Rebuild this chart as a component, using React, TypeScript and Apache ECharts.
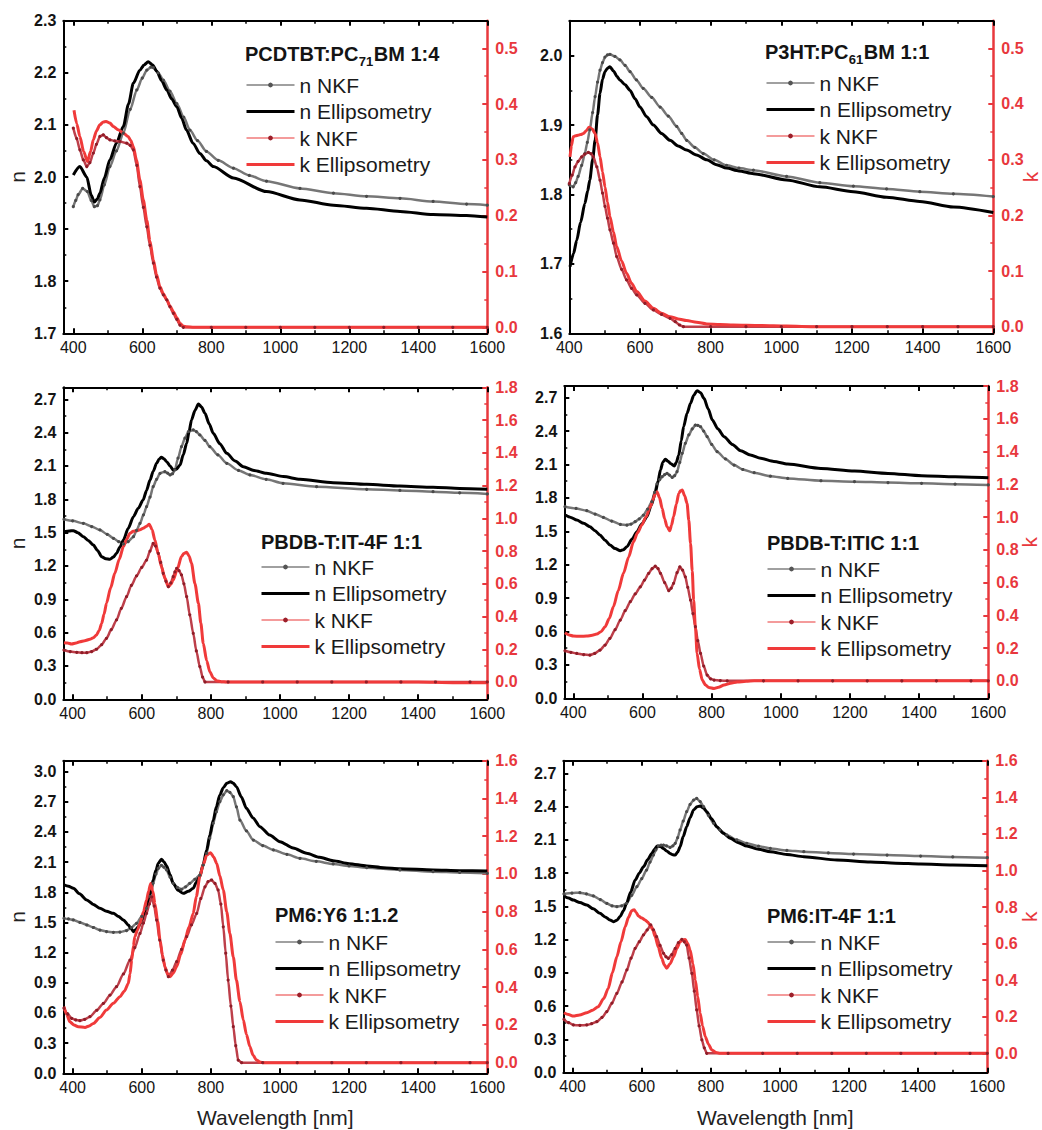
import React, { useEffect, useRef } from 'react';
import * as echarts from 'echarts';

const FONT = '"Liberation Sans", Arial, Helvetica, sans-serif';

// ---- tick values ----
const X_MAJOR = [400, 600, 800, 1000, 1200, 1400, 1600];
const X_MINOR = [500, 700, 900, 1100, 1300, 1500];
const P1_N_MAJOR = [1.7, 1.8, 1.9, 2.0, 2.1, 2.2, 2.3];
const P1_N_MINOR = [1.75, 1.85, 1.95, 2.05, 2.15, 2.25];
const P2_N_MAJOR = [1.6, 1.7, 1.8, 1.9, 2.0];
const P2_N_MINOR = [1.65, 1.75, 1.85, 1.95];
const K_MAJOR_05 = [0, 0.1, 0.2, 0.3, 0.4, 0.5];
const K_MINOR_05 = [0.05, 0.15, 0.25, 0.35, 0.45];
const N_MAJOR_27 = [0, 0.3, 0.6, 0.9, 1.2, 1.5, 1.8, 2.1, 2.4, 2.7];
const N_MINOR_27 = [0.15, 0.45, 0.75, 1.05, 1.35, 1.65, 1.95, 2.25, 2.55];
const N_MAJOR_30 = [0, 0.3, 0.6, 0.9, 1.2, 1.5, 1.8, 2.1, 2.4, 2.7, 3.0];
const N_MINOR_30 = [0.15, 0.45, 0.75, 1.05, 1.35, 1.65, 1.95, 2.25, 2.55, 2.85];
const K_MAJOR_18 = [0, 0.2, 0.4, 0.6, 0.8, 1.0, 1.2, 1.4, 1.6, 1.8];
const K_MINOR_18 = [0.1, 0.3, 0.5, 0.7, 0.9, 1.1, 1.3, 1.5, 1.7];
const K_MAJOR_16 = [0, 0.2, 0.4, 0.6, 0.8, 1.0, 1.2, 1.4, 1.6];
const K_MINOR_16 = [0.1, 0.3, 0.5, 0.7, 0.9, 1.1, 1.3, 1.5];

const SERIES_NAMES = ['n NKF', 'n Ellipsometry', 'k NKF', 'k Ellipsometry'];

// ---- Panel 1: PCDTBT:PC71BM 1:4 ----
const p1_nNKF = [[400,1.943],[407,1.955],[414,1.966],[427,1.978],[441,1.972],[452,1.955],[461,1.943],[470,1.945],[477,1.956],[490,1.985],[506,2.02],[525,2.05],[545,2.084],[565,2.13],[584,2.167],[600,2.19],[613,2.205],[625,2.211],[632,2.21],[646,2.2],[661,2.186],[680,2.165],[700,2.141],[720,2.115],[738,2.09],[760,2.07],[786,2.049],[820,2.032],[864,2.017],[910,2.003],[960,1.992],[1057,1.978],[1154,1.969],[1250,1.963],[1347,1.959],[1443,1.953],[1540,1.948],[1600,1.946]];
const p1_nEll = [[400,2.004],[419,2.02],[439,2.0],[452,1.965],[461,1.952],[470,1.958],[477,1.969],[490,1.998],[506,2.033],[525,2.065],[545,2.097],[560,2.14],[574,2.18],[593,2.205],[605,2.215],[617,2.221],[630,2.215],[642,2.203],[656,2.185],[671,2.167],[685,2.15],[700,2.135],[714,2.113],[728,2.09],[747,2.065],[767,2.045],[786,2.031],[806,2.02],[864,1.998],[960,1.972],[1057,1.956],[1154,1.946],[1250,1.94],[1347,1.934],[1443,1.928],[1540,1.926],[1600,1.923]];
const p1_kNKF = [[400,0.357],[410,0.338],[419,0.318],[429,0.3],[439,0.288],[448,0.295],[458,0.312],[467,0.328],[477,0.342],[487,0.345],[496,0.34],[506,0.336],[520,0.334],[535,0.333],[555,0.33],[565,0.326],[574,0.318],[584,0.29],[593,0.252],[603,0.215],[613,0.18],[622,0.147],[632,0.115],[641,0.09],[651,0.07],[661,0.058],[671,0.049],[680,0.037],[690,0.025],[700,0.014],[709,0.004],[719,0],[800,0],[900,0],[1000,0],[1100,0],[1200,0],[1300,0],[1400,0],[1500,0],[1600,0]];
const p1_kEll = [[402,0.389],[410,0.365],[419,0.342],[430,0.315],[441,0.297],[450,0.315],[458,0.336],[467,0.352],[477,0.363],[487,0.368],[495,0.369],[506,0.366],[516,0.36],[530,0.354],[545,0.348],[559,0.342],[566,0.335],[574,0.324],[583,0.3],[593,0.264],[603,0.228],[613,0.192],[622,0.155],[632,0.121],[641,0.095],[651,0.073],[661,0.06],[671,0.049],[680,0.038],[690,0.028],[700,0.017],[709,0.007],[719,0.002],[728,0.001],[750,0],[800,0],[900,0],[1000,0],[1100,0],[1200,0],[1300,0],[1400,0],[1500,0],[1600,0]];

// ---- Panel 2: P3HT:PC61BM 1:1 ----
const p2_nNKF = [[400,1.814],[411,1.811],[418,1.817],[425,1.826],[435,1.842],[444,1.859],[451,1.875],[458,1.893],[466,1.918],[473,1.941],[480,1.962],[487,1.979],[494,1.99],[501,1.998],[508,2.001],[515,2.002],[529,1.999],[543,1.994],[558,1.986],[572,1.977],[590,1.965],[609,1.953],[633,1.94],[657,1.926],[680,1.913],[704,1.898],[718,1.888],[732,1.878],[755,1.868],[779,1.859],[810,1.85],[845,1.842],[880,1.838],[921,1.835],[1015,1.826],[1109,1.817],[1204,1.812],[1298,1.808],[1392,1.804],[1487,1.801],[1600,1.797]];
const p2_nEll = [[402,1.696],[412,1.715],[421,1.734],[432,1.76],[444,1.787],[452,1.805],[458,1.821],[466,1.85],[473,1.878],[480,1.915],[487,1.946],[494,1.966],[501,1.977],[508,1.982],[515,1.984],[525,1.978],[535,1.97],[543,1.965],[558,1.958],[572,1.95],[586,1.938],[600,1.926],[619,1.912],[638,1.9],[661,1.888],[685,1.878],[708,1.87],[732,1.864],[760,1.857],[789,1.85],[817,1.843],[845,1.838],[880,1.834],[921,1.83],[1015,1.821],[1109,1.811],[1204,1.804],[1298,1.796],[1392,1.79],[1487,1.782],[1600,1.774]];
const p2_kNKF = [[400,0.257],[408,0.272],[416,0.287],[425,0.297],[435,0.305],[444,0.31],[454,0.313],[461,0.311],[468,0.305],[478,0.287],[487,0.263],[494,0.24],[501,0.216],[508,0.195],[515,0.174],[525,0.15],[534,0.126],[548,0.103],[562,0.084],[576,0.069],[591,0.057],[614,0.042],[638,0.03],[661,0.022],[685,0.015],[700,0.009],[712,0.003],[723,0],[800,0],[900,0],[1000,0],[1100,0],[1200,0],[1300,0],[1400,0],[1500,0],[1600,0]];
const p2_kEll = [[402,0.305],[406,0.325],[411,0.341],[418,0.343],[425,0.344],[432,0.345],[440,0.347],[448,0.352],[456,0.358],[465,0.355],[473,0.347],[480,0.33],[487,0.305],[494,0.278],[501,0.251],[508,0.224],[515,0.198],[525,0.17],[534,0.144],[548,0.118],[562,0.096],[576,0.078],[591,0.063],[614,0.046],[638,0.033],[661,0.024],[685,0.018],[708,0.014],[732,0.011],[760,0.008],[789,0.005],[826,0.004],[864,0.003],[940,0.002],[1015,0.001],[1100,0],[1200,0],[1300,0],[1400,0],[1500,0],[1600,0]];

// ---- Panel 3: PBDB-T:IT-4F 1:1 ----
const p3_nNKF = [[375,1.62],[400,1.606],[431,1.584],[455,1.555],[479,1.524],[500,1.485],[518,1.449],[533,1.42],[547,1.398],[561,1.42],[576,1.464],[585,1.52],[595,1.584],[605,1.66],[614,1.734],[624,1.82],[633,1.914],[643,1.98],[653,2.034],[667,2.049],[675,2.035],[682,2.019],[689,2.03],[696,2.064],[705,2.17],[715,2.274],[725,2.35],[735,2.409],[749,2.424],[758,2.41],[768,2.379],[783,2.33],[797,2.274],[820,2.2],[846,2.124],[880,2.06],[913,2.019],[960,1.98],[1009,1.944],[1106,1.914],[1251,1.89],[1347,1.88],[1443,1.869],[1520,1.858],[1600,1.848]];
const p3_nEll = [[375,1.509],[390,1.515],[402,1.518],[415,1.5],[431,1.464],[445,1.43],[460,1.389],[472,1.34],[484,1.284],[496,1.265],[508,1.26],[518,1.28],[527,1.314],[537,1.37],[547,1.434],[561,1.54],[576,1.644],[590,1.72],[604,1.794],[614,1.88],[624,1.974],[633,2.05],[643,2.124],[650,2.16],[657,2.178],[664,2.165],[672,2.139],[682,2.1],[691,2.064],[700,2.07],[711,2.109],[720,2.2],[730,2.304],[737,2.41],[744,2.514],[754,2.6],[764,2.658],[773,2.63],[783,2.574],[795,2.48],[807,2.394],[826,2.3],[846,2.214],[870,2.145],[894,2.094],[925,2.06],[961,2.034],[1010,2.005],[1058,1.98],[1154,1.95],[1251,1.935],[1347,1.92],[1443,1.908],[1520,1.898],[1600,1.89]];
const p3_kNKF = [[375,0.195],[393,0.186],[412,0.181],[427,0.179],[441,0.179],[455,0.186],[469,0.2],[484,0.228],[498,0.267],[512,0.32],[527,0.379],[541,0.45],[556,0.521],[570,0.59],[585,0.648],[600,0.7],[614,0.745],[624,0.8],[633,0.847],[640,0.83],[648,0.786],[655,0.73],[662,0.664],[670,0.615],[677,0.582],[684,0.605],[691,0.643],[696,0.672],[701,0.694],[708,0.68],[715,0.654],[722,0.6],[730,0.521],[739,0.41],[749,0.297],[758,0.19],[768,0.094],[776,0.03],[783,0],[850,0],[950,0],[1050,0],[1150,0],[1250,0],[1350,0],[1450,0],[1550,0],[1600,0]];
const p3_kEll = [[375,0.24],[385,0.238],[397,0.232],[410,0.238],[421,0.246],[435,0.252],[450,0.261],[460,0.27],[469,0.287],[477,0.315],[484,0.358],[491,0.415],[498,0.481],[510,0.575],[522,0.664],[535,0.75],[547,0.827],[556,0.87],[566,0.908],[575,0.92],[585,0.924],[595,0.93],[604,0.939],[613,0.95],[622,0.963],[630,0.93],[638,0.867],[648,0.78],[657,0.705],[667,0.635],[677,0.582],[684,0.595],[691,0.623],[703,0.69],[715,0.766],[722,0.785],[730,0.792],[737,0.77],[744,0.725],[754,0.6],[764,0.481],[771,0.36],[778,0.236],[788,0.13],[797,0.063],[807,0.025],[817,0.008],[830,0.002],[846,0],[900,0],[1000,0],[1100,0],[1200,0],[1300,0],[1400,0],[1500,-0.004],[1600,-0.005]];

// ---- Panel 4: PBDB-T:ITIC 1:1 ----
const p4_nNKF = [[376,1.721],[408,1.705],[439,1.685],[463,1.655],[487,1.625],[511,1.592],[536,1.562],[555,1.556],[567,1.565],[579,1.586],[591,1.612],[603,1.646],[615,1.7],[627,1.766],[635,1.85],[642,1.925],[650,1.965],[657,1.99],[664,2.008],[671,2.02],[678,2.005],[686,1.984],[693,2.0],[700,2.035],[708,2.12],[715,2.2],[724,2.29],[734,2.365],[744,2.42],[753,2.454],[760,2.452],[768,2.439],[777,2.4],[787,2.35],[800,2.28],[816,2.215],[840,2.15],[865,2.095],[890,2.055],[923,2.026],[970,1.995],[1020,1.975],[1116,1.954],[1213,1.946],[1310,1.938],[1407,1.931],[1504,1.923],[1600,1.916]];
const p4_nEll = [[376,1.646],[393,1.625],[410,1.601],[430,1.572],[448,1.541],[463,1.505],[477,1.467],[492,1.42],[506,1.377],[521,1.345],[536,1.326],[545,1.335],[555,1.362],[570,1.43],[584,1.497],[598,1.565],[613,1.631],[625,1.73],[637,1.841],[645,1.95],[652,2.05],[659,2.12],[666,2.146],[674,2.13],[681,2.11],[692,2.086],[698,2.12],[705,2.185],[712,2.31],[719,2.439],[729,2.56],[739,2.649],[748,2.72],[758,2.763],[768,2.745],[778,2.694],[790,2.6],[802,2.499],[818,2.42],[836,2.35],[860,2.28],[884,2.224],[912,2.185],[942,2.155],[980,2.128],[1020,2.104],[1116,2.065],[1213,2.041],[1310,2.02],[1407,1.999],[1504,1.99],[1600,1.981]];
const p4_kNKF = [[376,0.183],[393,0.174],[410,0.167],[430,0.16],[448,0.157],[462,0.167],[477,0.187],[492,0.218],[506,0.259],[521,0.312],[536,0.371],[550,0.428],[565,0.483],[579,0.53],[594,0.574],[606,0.615],[618,0.656],[628,0.685],[637,0.7],[645,0.685],[652,0.656],[664,0.6],[676,0.55],[683,0.565],[690,0.595],[700,0.66],[708,0.696],[716,0.675],[724,0.635],[731,0.57],[739,0.493],[746,0.41],[753,0.33],[760,0.245],[768,0.167],[777,0.09],[787,0.035],[797,0.012],[807,0.004],[825,0.001],[845,0],[950,0],[1050,0],[1150,0],[1250,0],[1350,0],[1450,0],[1550,0],[1600,0]];
const p4_kEll = [[376,0.293],[388,0.28],[400,0.273],[420,0.272],[439,0.273],[455,0.278],[468,0.285],[480,0.3],[492,0.33],[504,0.38],[516,0.452],[530,0.55],[545,0.656],[560,0.755],[574,0.849],[586,0.905],[598,0.951],[610,1.0],[623,1.063],[630,1.105],[637,1.144],[642,1.155],[649,1.12],[657,1.053],[664,0.99],[671,0.941],[679,0.916],[684,0.95],[690,1.002],[698,1.08],[705,1.144],[710,1.16],[715,1.165],[722,1.13],[729,1.083],[734,0.98],[739,0.839],[744,0.67],[748,0.493],[753,0.33],[758,0.167],[765,0.07],[773,0.004],[782,-0.025],[792,-0.041],[807,-0.047],[820,-0.04],[836,-0.026],[855,-0.015],[874,-0.008],[900,-0.003],[923,0],[1000,0],[1100,0],[1200,0],[1300,0],[1400,0],[1500,0],[1600,0]];

// ---- Panel 5: PM6:Y6 1:1.2 ----
const p5_nNKF = [[375,1.541],[388,1.535],[402,1.525],[421,1.5],[441,1.475],[460,1.45],[479,1.425],[498,1.41],[518,1.402],[537,1.405],[556,1.419],[570,1.45],[585,1.492],[600,1.56],[614,1.641],[624,1.76],[633,1.889],[641,1.98],[648,2.038],[657,2.068],[664,2.05],[672,2.022],[682,1.95],[691,1.889],[703,1.848],[715,1.83],[727,1.855],[739,1.889],[754,1.93],[768,1.972],[778,2.07],[788,2.188],[797,2.34],[807,2.486],[816,2.6],[826,2.701],[836,2.77],[846,2.811],[855,2.795],[865,2.751],[874,2.65],[884,2.519],[903,2.41],[923,2.32],[950,2.265],[981,2.221],[1020,2.178],[1058,2.138],[1105,2.108],[1154,2.082],[1200,2.062],[1251,2.045],[1347,2.022],[1443,2.005],[1520,1.997],[1600,1.989]];
const p5_nEll = [[375,1.873],[388,1.86],[402,1.84],[420,1.785],[441,1.724],[460,1.68],[479,1.641],[498,1.612],[518,1.591],[533,1.56],[547,1.525],[561,1.475],[569,1.44],[576,1.409],[583,1.43],[590,1.458],[602,1.53],[614,1.624],[624,1.78],[633,1.922],[641,2.02],[648,2.088],[657,2.128],[664,2.105],[672,2.062],[682,1.975],[691,1.889],[705,1.82],[720,1.79],[735,1.81],[749,1.84],[758,1.9],[768,1.956],[778,2.08],[788,2.221],[797,2.37],[807,2.519],[816,2.65],[826,2.768],[836,2.84],[846,2.884],[857,2.9],[865,2.885],[874,2.851],[888,2.75],[903,2.635],[922,2.54],[942,2.453],[970,2.37],[1000,2.304],[1038,2.24],[1077,2.188],[1115,2.148],[1154,2.115],[1200,2.085],[1251,2.062],[1300,2.045],[1347,2.035],[1443,2.022],[1520,2.015],[1600,2.012]];
const p5_kNKF = [[375,0.288],[386,0.258],[397,0.235],[409,0.227],[421,0.223],[435,0.23],[450,0.244],[470,0.278],[489,0.314],[508,0.358],[527,0.403],[547,0.47],[566,0.544],[580,0.61],[595,0.685],[605,0.74],[614,0.791],[622,0.84],[629,0.879],[636,0.83],[643,0.756],[652,0.65],[662,0.544],[670,0.49],[677,0.456],[689,0.49],[701,0.535],[715,0.6],[730,0.668],[744,0.73],[759,0.791],[771,0.87],[783,0.932],[792,0.96],[802,0.968],[812,0.95],[821,0.915],[829,0.84],[836,0.72],[843,0.58],[850,0.438],[858,0.3],[865,0.191],[872,0.09],[879,0.014],[889,0],[950,0],[1050,0],[1150,0],[1250,0],[1350,0],[1450,0],[1550,0],[1600,0]];
const p5_kEll = [[375,0.297],[383,0.255],[392,0.217],[404,0.2],[416,0.191],[436,0.187],[448,0.195],[460,0.208],[479,0.24],[498,0.279],[518,0.315],[537,0.35],[550,0.38],[561,0.42],[566,0.47],[571,0.544],[576,0.62],[580,0.668],[588,0.705],[595,0.738],[605,0.8],[614,0.862],[620,0.91],[626,0.95],[632,0.91],[638,0.844],[646,0.75],[653,0.65],[660,0.57],[667,0.509],[675,0.47],[682,0.456],[691,0.475],[701,0.509],[713,0.575],[725,0.65],[737,0.72],[749,0.791],[758,0.88],[768,0.985],[778,1.05],[788,1.1],[799,1.113],[808,1.09],[817,1.056],[826,0.99],[836,0.915],[846,0.8],[855,0.685],[865,0.56],[874,0.438],[884,0.325],[894,0.226],[903,0.15],[913,0.085],[922,0.04],[932,0.014],[942,0.004],[952,0],[1000,0],[1100,0],[1200,0],[1300,0],[1400,0],[1500,0],[1600,0]];

// ---- Panel 6: PM6:IT-4F 1:1 ----
const p6_nNKF = [[375,1.612],[398,1.62],[421,1.624],[440,1.612],[460,1.594],[480,1.562],[499,1.527],[514,1.505],[528,1.497],[542,1.505],[556,1.527],[571,1.6],[586,1.678],[600,1.75],[614,1.828],[624,1.9],[634,1.963],[641,2.01],[648,2.044],[656,2.052],[663,2.053],[672,2.045],[682,2.032],[690,2.045],[697,2.069],[704,2.12],[711,2.189],[720,2.27],[730,2.354],[740,2.42],[750,2.459],[759,2.474],[769,2.445],[779,2.399],[793,2.32],[808,2.249],[826,2.19],[846,2.144],[875,2.1],[904,2.069],[938,2.043],[972,2.023],[1020,2.005],[1069,1.993],[1140,1.982],[1213,1.972],[1310,1.963],[1407,1.954],[1500,1.946],[1600,1.939]];
const p6_nEll = [[375,1.594],[388,1.575],[402,1.557],[421,1.535],[441,1.512],[460,1.478],[479,1.437],[494,1.405],[508,1.377],[518,1.362],[528,1.375],[537,1.407],[547,1.46],[556,1.527],[568,1.63],[581,1.738],[593,1.8],[605,1.858],[617,1.92],[629,1.978],[637,2.015],[645,2.044],[654,2.04],[663,2.023],[672,2.0],[682,1.978],[690,1.965],[697,1.963],[704,1.99],[711,2.038],[720,2.13],[730,2.219],[740,2.3],[750,2.369],[760,2.398],[769,2.405],[779,2.385],[788,2.354],[802,2.29],[817,2.219],[836,2.16],[856,2.114],[880,2.075],[904,2.044],[938,2.015],[972,1.993],[1020,1.968],[1069,1.948],[1165,1.918],[1262,1.9],[1335,1.89],[1407,1.882],[1500,1.874],[1600,1.867]];
const p6_kNKF = [[375,0.186],[388,0.168],[402,0.155],[421,0.153],[441,0.155],[455,0.162],[470,0.173],[485,0.196],[499,0.228],[514,0.275],[528,0.328],[543,0.39],[557,0.456],[569,0.52],[581,0.574],[593,0.61],[605,0.647],[616,0.675],[626,0.702],[634,0.675],[643,0.638],[653,0.59],[663,0.547],[670,0.528],[677,0.519],[687,0.54],[697,0.574],[706,0.605],[716,0.623],[723,0.61],[730,0.592],[737,0.52],[745,0.437],[752,0.34],[759,0.237],[766,0.15],[774,0.073],[781,0.03],[788,0],[850,0],[950,0],[1050,0],[1150,0],[1250,0],[1350,0],[1450,0],[1550,0],[1600,0]];
const p6_kEll = [[375,0.222],[388,0.212],[402,0.204],[420,0.21],[441,0.222],[458,0.236],[474,0.255],[490,0.3],[503,0.355],[515,0.44],[528,0.528],[540,0.61],[552,0.692],[562,0.745],[571,0.78],[578,0.785],[584,0.77],[590,0.751],[600,0.74],[610,0.729],[617,0.718],[624,0.702],[632,0.675],[639,0.638],[648,0.58],[658,0.519],[665,0.485],[672,0.465],[682,0.49],[692,0.528],[702,0.575],[711,0.61],[718,0.62],[726,0.623],[733,0.6],[740,0.565],[748,0.49],[755,0.401],[762,0.31],[769,0.219],[776,0.15],[784,0.091],[793,0.05],[803,0.018],[815,0.005],[827,0],[900,0],[1000,0],[1100,0],[1200,0],[1300,0],[1400,0],[1500,0],[1600,0]];

// ---- layout / per-panel settings ----
const PANELS = [
  { left: 63.3, top: 20.7, width: 424, height: 312.6, xMin: 371, nMin: 1.7, nMax: 2.3, nMajor: P1_N_MAJOR, nMinor: P1_N_MINOR, kMin: -0.0108, kMax: 0.5495, kMajor: K_MAJOR_05, kMinor: K_MINOR_05,
    title: ['PCDTBT:PC', '71', 'BM 1:4'], titleX: 245, titleY: 54, legX: 245, legY: 74.5, nName: true, kName: false, xName: false, kGap: 26,
    data: [p1_nNKF, p1_nEll, p1_kNKF, p1_kEll] },
  { left: 569.3, top: 20.7, width: 424, height: 312.6, xMin: 400, nMin: 1.6, nMax: 2.0504, nMajor: P2_N_MAJOR, nMinor: P2_N_MINOR, kMin: -0.0119, kMax: 0.5496, kMajor: K_MAJOR_05, kMinor: K_MINOR_05,
    title: ['P3HT:PC', '61', 'BM 1:1'], titleX: 765, titleY: 52, legX: 765, legY: 72.5, nName: false, kName: true, xName: false, kGap: 27,
    data: [p2_nNKF, p2_nEll, p2_kNKF, p2_kEll] },
  { left: 63.3, top: 387.3, width: 424, height: 312, xMin: 373, nMin: 0, nMax: 2.808, nMajor: N_MAJOR_27, nMinor: N_MINOR_27, kMin: -0.1057, kMax: 1.8, kMajor: K_MAJOR_18, kMinor: K_MINOR_18,
    title: ['PBDB-T:IT-4F 1:1', '', ''], titleX: 261, titleY: 542, legX: 260, legY: 556.5, nName: true, kName: false, xName: false, kGap: 31,
    data: [p3_nNKF, p3_nEll, p3_kNKF, p3_kEll] },
  { left: 564.3, top: 386, width: 424, height: 312.3, xMin: 374, nMin: 0, nMax: 2.805, nMajor: N_MAJOR_27, nMinor: N_MINOR_27, kMin: -0.107, kMax: 1.8, kMajor: K_MAJOR_18, kMinor: K_MINOR_18,
    title: ['PBDB-T:ITIC 1:1', '', ''], titleX: 767, titleY: 543, legX: 766, legY: 558.5, nName: false, kName: true, xName: false, kGap: 31,
    data: [p4_nNKF, p4_nEll, p4_kNKF, p4_kEll] },
  { left: 63.3, top: 760.7, width: 424, height: 312.6, xMin: 373, nMin: 0, nMax: 3.109, nMajor: N_MAJOR_30, nMinor: N_MINOR_30, kMin: -0.056, kMax: 1.6, kMajor: K_MAJOR_16, kMinor: K_MINOR_16,
    title: ['PM6:Y6 1:1.2', '', ''], titleX: 275, titleY: 915, legX: 274, legY: 931.5, nName: true, kName: false, xName: true, kGap: 31,
    data: [p5_nNKF, p5_nEll, p5_kNKF, p5_kEll] },
  { left: 563.3, top: 760.7, width: 424, height: 312, xMin: 373, nMin: 0, nMax: 2.814, nMajor: N_MAJOR_27, nMinor: N_MINOR_27, kMin: -0.106, kMax: 1.6, kMajor: K_MAJOR_16, kMinor: K_MINOR_16,
    title: ['PM6:IT-4F 1:1', '', ''], titleX: 767, titleY: 916, legX: 766, legY: 931.5, nName: false, kName: true, xName: true, kGap: 32,
    data: [p6_nNKF, p6_nEll, p6_kNKF, p6_kEll] },
];

const BLACK = '#000000';
const RED = '#e8383d';
const TXT = '#141414';

function measure(text: string, font: string): number {
  const c = document.createElement('canvas').getContext('2d');
  if (!c) return text.length * 11;
  c.font = font;
  return c.measureText(text).width;
}

function buildOption() {
  const grid: any[] = [];
  const xAxis: any[] = [];
  const yAxis: any[] = [];
  const series: any[] = [];
  const legend: any[] = [];
  const graphic: any[] = [];

  const majorTick = (vals: number[], color: string) => ({ show: true, inside: true, length: 5, customValues: vals, lineStyle: { color, width: 2 } });
  const minorTick = (vals: number[], color: string) => ({ show: true, inside: true, length: 3, customValues: vals, lineStyle: { color, width: 1.5 } });

  PANELS.forEach((p, i) => {
    grid.push({ left: p.left, top: p.top, width: p.width, height: p.height, containLabel: false, outerBoundsMode: 'none' });
    const xb = { type: 'value', gridIndex: i, min: p.xMin, max: 1600, splitLine: { show: false } };
    xAxis.push({
      ...xb, position: 'bottom',
      axisLine: { show: true, onZero: false, lineStyle: { color: BLACK, width: 2 } },
      axisTick: majorTick(X_MAJOR, BLACK),
      axisLabel: { show: true, customValues: X_MAJOR, formatter: (v: number) => String(Math.round(v)), fontSize: 16, fontFamily: FONT, color: TXT, margin: 6 },
      name: p.xName ? 'Wavelength [nm]' : '', nameLocation: 'middle', nameGap: 34,
      nameTextStyle: { fontSize: 21, fontFamily: FONT, color: '#222' },
    });
    xAxis.push({ ...xb, position: 'bottom', axisLine: { show: false, onZero: false }, axisTick: minorTick(X_MINOR, BLACK), axisLabel: { show: false } });
    xAxis.push({ ...xb, position: 'top', axisLine: { show: true, onZero: false, lineStyle: { color: BLACK, width: 2 } }, axisTick: majorTick(X_MAJOR, BLACK), axisLabel: { show: false } });
    xAxis.push({ ...xb, position: 'top', axisLine: { show: false, onZero: false }, axisTick: minorTick(X_MINOR, BLACK), axisLabel: { show: false } });

    const nb = { type: 'value', gridIndex: i, min: p.nMin, max: p.nMax, splitLine: { show: false } };
    const kb = { type: 'value', gridIndex: i, min: p.kMin, max: p.kMax, splitLine: { show: false } };
    yAxis.push({
      ...nb, position: 'left',
      axisLine: { show: true, onZero: false, lineStyle: { color: BLACK, width: 2 } },
      axisTick: majorTick(p.nMajor, BLACK),
      axisLabel: { show: true, customValues: p.nMajor, formatter: (v: number) => v.toFixed(1), fontSize: 16, fontWeight: 'bold', fontFamily: FONT, color: TXT, margin: 7 },
      name: p.nName ? 'n' : '', nameLocation: 'middle', nameRotate: 90, nameGap: 35, nameMoveOverlap: false,
      nameTextStyle: { fontSize: 21, fontFamily: FONT, color: '#222' },
    });
    yAxis.push({ ...nb, position: 'left', axisLine: { show: false, onZero: false }, axisTick: minorTick(p.nMinor, BLACK), axisLabel: { show: false } });
    yAxis.push({
      ...kb, position: 'right',
      axisLine: { show: true, onZero: false, lineStyle: { color: RED, width: 2.5 } },
      axisTick: majorTick(p.kMajor, RED),
      axisLabel: { show: true, customValues: p.kMajor, formatter: (v: number) => v.toFixed(1), fontSize: 16, fontWeight: 'bold', fontFamily: FONT, color: RED, margin: 8 },
      name: p.kName ? 'k' : '', nameLocation: 'middle', nameRotate: 90, nameGap: p.kGap, nameMoveOverlap: false,
      nameTextStyle: { fontSize: 21, fontFamily: FONT, color: RED },
    });
    yAxis.push({ ...kb, position: 'right', axisLine: { show: false, onZero: false }, axisTick: minorTick(p.kMinor, RED), axisLabel: { show: false } });

    const common = { type: 'line', xAxisIndex: 4 * i, smooth: 0.25, smoothMonotone: 'x', clip: true, silent: true };
    series.push({ ...common, name: SERIES_NAMES[0], yAxisIndex: 4 * i, data: p.data[0], symbol: 'circle', symbolSize: 3.2, showSymbol: true,
      lineStyle: { color: '#767676', width: 2.5 }, itemStyle: { color: '#4a4a4a' } });
    series.push({ ...common, name: SERIES_NAMES[1], yAxisIndex: 4 * i, data: p.data[1], symbol: 'none',
      lineStyle: { color: '#000000', width: 3 }, itemStyle: { color: '#000000' } });
    series.push({ ...common, name: SERIES_NAMES[2], yAxisIndex: 4 * i + 2, data: p.data[2], symbol: 'circle', symbolSize: 3.2, showSymbol: true,
      lineStyle: { color: '#bd3f4a', width: 2.5 }, itemStyle: { color: '#8f1c27' } });
    series.push({ ...common, name: SERIES_NAMES[3], yAxisIndex: 4 * i + 2, data: p.data[3], symbol: 'none',
      lineStyle: { color: '#f03a3a', width: 3 }, itemStyle: { color: '#f03a3a' } });

    legend.push({
      orient: 'vertical', left: p.legX, top: p.legY, padding: 0, itemWidth: 48, itemHeight: 6, itemGap: 5.5,
      selectedMode: false,
      textStyle: { fontSize: 21, fontFamily: FONT, color: '#1a1a1a' },
      data: [
        { name: SERIES_NAMES[0], lineStyle: { color: '#808080', width: 1.3 }, itemStyle: { color: '#555555' } },
        { name: SERIES_NAMES[1], lineStyle: { color: '#000000', width: 3 }, itemStyle: { opacity: 0 } },
        { name: SERIES_NAMES[2], lineStyle: { color: '#f07a7a', width: 1.3 }, itemStyle: { color: '#9c1f2a' } },
        { name: SERIES_NAMES[3], lineStyle: { color: '#f03a3a', width: 3 }, itemStyle: { opacity: 0 } },
      ],
    });

    // title with optional subscript
    const mainFont = `bold 20px ${FONT}`;
    const subFont = `bold 13px ${FONT}`;
    const w0 = measure(p.title[0], mainFont);
    const w1 = p.title[1] ? measure(p.title[1], subFont) : 0;
    graphic.push({ type: 'text', x: p.titleX, y: p.titleY, silent: true,
      style: { text: p.title[0], fontSize: 20, fontWeight: 'bold', fontFamily: FONT, fill: TXT, verticalAlign: 'middle', align: 'left' } });
    if (p.title[1]) {
      graphic.push({ type: 'text', x: p.titleX + w0 + 0.5, y: p.titleY + 7.5, silent: true,
        style: { text: p.title[1], fontSize: 13, fontWeight: 'bold', fontFamily: FONT, fill: TXT, verticalAlign: 'middle', align: 'left' } });
      graphic.push({ type: 'text', x: p.titleX + w0 + w1 + 1, y: p.titleY, silent: true,
        style: { text: p.title[2], fontSize: 20, fontWeight: 'bold', fontFamily: FONT, fill: TXT, verticalAlign: 'middle', align: 'left' } });
    }
  });

  return { animation: false, backgroundColor: '#ffffff', grid, xAxis, yAxis, series, legend, graphic };
}

export default function App() {
  const ref = useRef<HTMLDivElement | null>(null);
  useEffect(() => {
    if (!ref.current) return;
    const chart = echarts.init(ref.current, null, { renderer: 'svg' });
    chart.setOption(buildOption() as any);
    return () => chart.dispose();
  }, []);
  return (
    <div ref={ref} style={{ position: 'absolute', left: 0, top: 0, width: 1042, height: 1130, background: '#fff' }} />
  );
}
